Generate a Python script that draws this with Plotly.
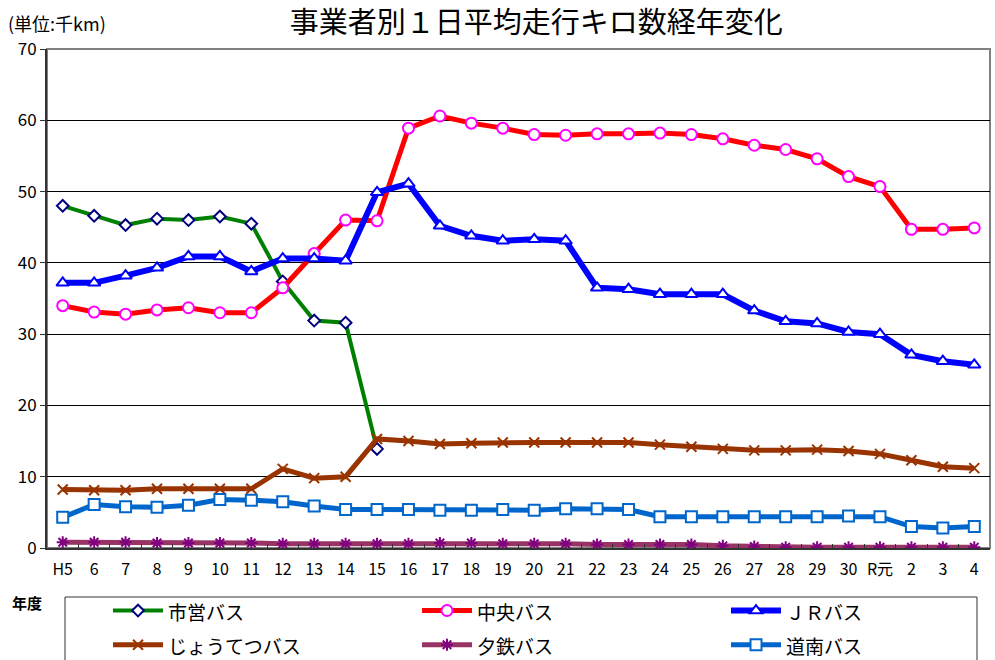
import plotly.graph_objects as go

categories = ["H5", "6", "7", "8", "9", "10", "11", "12", "13", "14", "15", "16", "17", "18",
              "19", "20", "21", "22", "23", "24", "25", "26", "27", "28", "29", "30", "R元",
              "2", "3", "4"]

shiei = [48.0, 46.6, 45.3, 46.2, 46.0, 46.5, 45.5, 37.4, 31.9, 31.6, 13.9] + [None] * 19
chuo = [34.0, 33.1, 32.8, 33.4, 33.7, 33.0, 33.0, 36.5, 41.3, 46.0, 45.9,
        58.9, 60.6, 59.6, 58.9, 58.0, 57.9, 58.1, 58.1, 58.2, 58.0, 57.4, 56.5, 55.9, 54.6, 52.1,
        50.7, 44.7, 44.7, 44.9]
jr = [37.2, 37.2, 38.2, 39.3, 40.9, 40.9, 38.8, 40.6, 40.6, 40.3, 49.9,
      51.1, 45.2, 43.8, 43.1, 43.3, 43.1, 36.5, 36.3, 35.6, 35.6, 35.6, 33.3, 31.8, 31.5, 30.3,
      30.0, 27.1, 26.2, 25.7]
joutetsu = [8.2, 8.1, 8.1, 8.3, 8.3, 8.3, 8.3, 11.1, 9.8, 10.0, 15.3,
            15.0, 14.6, 14.7, 14.8, 14.8, 14.8, 14.8, 14.8, 14.5, 14.2, 13.9, 13.7, 13.7, 13.8, 13.6,
            13.2, 12.3, 11.4, 11.2]
yutetsu = [0.8, 0.8, 0.8, 0.7, 0.7, 0.7, 0.7, 0.6, 0.6, 0.6, 0.6,
           0.6, 0.7, 0.7, 0.6, 0.6, 0.6, 0.5, 0.5, 0.5, 0.5, 0.3, 0.2, 0.1, 0.1, 0.1,
           0.1, 0.1, 0.1, 0.1]
dounan = [4.3, 6.1, 5.8, 5.7, 6.0, 6.8, 6.7, 6.5, 5.9, 5.4, 5.4,
          5.4, 5.3, 5.3, 5.4, 5.3, 5.5, 5.5, 5.4, 4.4, 4.4, 4.4, 4.4, 4.4, 4.4, 4.5,
          4.4, 3.0, 2.8, 3.0]

y_ticks = [0, 10, 20, 30, 40, 50, 60, 70]

FONT = "Noto Sans CJK JP, Noto Sans, sans-serif"
NUMFONT = "Liberation Sans Narrow, Noto Sans CJK JP, sans-serif"

series = [
    ("市営バス", shiei, "#008000", 4, "diamond", "white", "#000080", 9),
    ("中央バス", chuo, "#FF0000", 5, "circle", "white", "#FF00FF", 11),
    ("ＪＲバス", jr, "#0000FF", 6, "triangle-up", "white", "#0000FF", 11),
    ("じょうてつバス", joutetsu, "#993300", 5, "x-thin-open", "#993300", "#993300", 10),
    ("夕鉄バス", yutetsu, "#993366", 5, "asterisk-open", "#800080", "#800080", 10),
    ("道南バス", dounan, "#0066CC", 5, "square", "white", "#0066CC", 11),
]

fig = go.Figure()
for name, vals, lc, lw, sym, fill, mlc, ms in series:
    fig.add_trace(go.Scatter(
        x=categories, y=vals, name='<span style="font-size:19px">' + name + '</span>',
        mode="lines+markers",
        line=dict(color=lc, width=lw),
        marker=dict(symbol=sym, color=fill, size=ms,
                    line=dict(color=mlc, width=2)),
        connectgaps=False,
    ))

fig.update_layout(
    width=995, height=660,
    margin=dict(l=47, r=5, t=49, b=112, autoexpand=False),
    paper_bgcolor="white", plot_bgcolor="white",
    font=dict(family=FONT, color="black"),
    title=dict(text="事業者別１日平均走行キロ数経年変化", x=0.539, xref="container",
               y=0.965, yref="container", xanchor="center", yanchor="middle",
               font=dict(size=29, family=FONT, color="black")),
    xaxis=dict(type="category", range=[-0.5, 29.5], showgrid=False,
               showline=True, linecolor="#333333", linewidth=2,
               ticks="inside", ticklen=4, tickcolor="#333333", tickson="boundaries",
               tickangle=0, tickfont=dict(size=16, family=NUMFONT), zeroline=False,
               ticklabelstandoff=6),
    yaxis=dict(range=[0, 70], tickvals=y_ticks, showgrid=True, gridcolor="black", gridwidth=1,
               showline=True, linecolor="#333333", linewidth=2,
               ticks="outside", ticklen=5, tickcolor="#333333",
               tickfont=dict(size=17, family=NUMFONT), zeroline=False),
    legend=dict(orientation="h", x=0.0647, y=-0.081, xanchor="left", yanchor="top",
                borderwidth=0, bgcolor="rgba(0,0,0,0)",
                font=dict(size=24, family=FONT),
                entrywidth=244, entrywidthmode="pixels", itemwidth=50,
                traceorder="normal"),
    shapes=[
        dict(type="rect", xref="paper", yref="paper", x0=0, x1=1, y0=0, y1=1,
             line=dict(color="#808080", width=2), layer="below"),
        dict(type="rect", xref="paper", yref="paper", x0=0.0191, x1=0.9862, y0=-0.0982, y1=-0.35,
             line=dict(color="#333333", width=1), layer="above"),
    ],
    annotations=[
        dict(text="(単位:千km)", xref="paper", yref="paper", x=-0.0435, y=1.052,
             xanchor="left", yanchor="middle", showarrow=False,
             font=dict(size=18, family=FONT)),
        dict(text="<b>年度</b>", xref="paper", yref="paper", x=-0.039, y=-0.110,
             xanchor="left", yanchor="middle", showarrow=False,
             font=dict(size=15, family=FONT)),
    ],
)

fig.write_html("out.html", config={"displayModeBar": False},
               post_script="document.body.style.margin='0';")
